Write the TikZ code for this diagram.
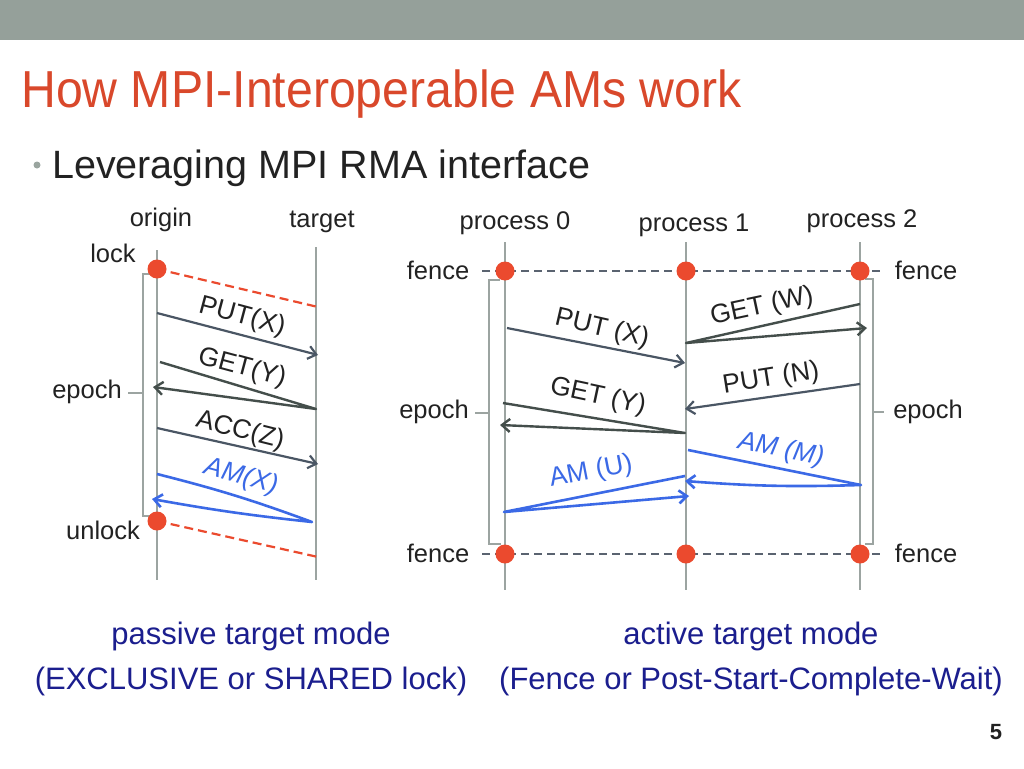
\documentclass[tikz,border=0pt]{standalone}
\usepackage{fontspec}
\setmainfont{Liberation Sans}
\usetikzlibrary{arrows.meta}
\definecolor{bar}{HTML}{95A09A}
\definecolor{titlered}{HTML}{D9482B}
\definecolor{life}{HTML}{9CA4A1}
\definecolor{arrowc}{HTML}{4A5664}
\definecolor{getc}{HTML}{444E4B}
\definecolor{amblue}{HTML}{3B69E6}
\definecolor{dotred}{HTML}{EB4A2E}
\definecolor{fencec}{HTML}{5A6370}
\definecolor{capblue}{HTML}{1B1E8E}
\definecolor{txt}{HTML}{222222}
\definecolor{bulletc}{HTML}{9AA59F}
\tikzset{
  lifeline/.style={draw=life, line width=2.6pt},
  brk/.style={draw=life, line width=2pt},
  tip/.style={-{Straight Barb[length=8pt,width=13pt]}},
  msgput/.style={draw=arrowc, line width=2.2pt, tip},
  msgget/.style={draw=getc, line width=2.4pt, line join=round, tip},
  msgam/.style={draw=amblue, line width=2.6pt, line join=round, tip},
  lockline/.style={draw=dotred, line width=2.2pt, dash pattern=on 9pt off 5pt},
  fenceline/.style={draw=fencec, line width=2.2pt, dash pattern=on 8pt off 5pt},
  dot/.style={circle, fill=dotred, minimum size=19pt, inner sep=0pt},
  lbl/.style={font=\fontsize{25.5}{29}\selectfont, text=txt, inner sep=0pt},
  msglbl/.style={font=\fontsize{26.5}{30}\selectfont, text=txt, inner sep=0pt},
  amlbl/.style={msglbl, text=amblue},
  captxt/.style={font=\fontsize{31}{34}\selectfont, text=capblue, inner sep=0pt},
}
\begin{document}
\begin{tikzpicture}[x=1pt,y=-1pt]
\useasboundingbox (0,0) rectangle (1024,768);
\fill[white] (0,0) rectangle (1024,768);
\fill[bar] (0,0) rectangle (1024,40);

% title and bullet
\node[anchor=base west, inner sep=0pt, text=titlered, font=\fontsize{48.2}{52}\selectfont] (title) at (21,107) {\scalebox{1}[1.08]{How MPI-Interoperable AMs work}};
\fill[bulletc] (37,165) circle (3.5);
\node[anchor=base west, inner sep=0pt, text=txt, font=\fontsize{39.5}{44}\selectfont] (bullet) at (52,178) {Leveraging MPI RMA interface};

% ---------- left diagram ----------
\coordinate (oTop) at (157,250); \coordinate (oBot) at (157,580);
\coordinate (tTop) at (316,247); \coordinate (tBot) at (316,580);
\draw[lifeline] (oTop) -- (oBot);
\draw[lifeline] (tTop) -- (tBot);
\draw[brk] (151,274) -- (143,274) -- (143,516) -- (151,516);
\draw[brk] (143,393) -- (128,393);

\coordinate (lockE) at (318,307);
\coordinate (unlockE) at (318,557);
\draw[lockline] (157,269) -- (lockE);
\draw[lockline] (157,521) -- (unlockE);

\coordinate (p1s) at (157,313); \coordinate (p1e) at (318,355);
\draw[msgput] (p1s) -- (p1e);
\coordinate (g1s) at (160,362); \coordinate (g1t) at (316,409); \coordinate (g1e) at (153,387);
\draw[msgget] (g1s) -- (g1t) -- (g1e);
\coordinate (a1s) at (157,428); \coordinate (a1e) at (318,464);
\draw[msgput] (a1s) -- (a1e);
\coordinate (m1s) at (157,474); \coordinate (m1t) at (312,522); \coordinate (m1e) at (152,499);
\draw[msgam] (m1s) to[bend left=3] (m1t) to[bend left=2] (m1e);

\node[dot] (lock) at (157,269) {};
\node[dot] (unlock) at (157,521) {};

\node[lbl] (origin) at (161,220) {origin};
\node[lbl] (target) at (322,222) {target};
\node[lbl] (locklbl) at (113,253) {lock};
\node[lbl] (unlocklbl) at (103,530) {unlock};
\node[lbl] (epochL) at (87,392) {epoch};
\node[msglbl, rotate=-15] (putx) at (242,317) {PUT(X)};
\node[msglbl, rotate=-15] (gety) at (242,368) {GET(Y)};
\node[msglbl, rotate=-14] (accz) at (240,431) {ACC(Z)};
\node[amlbl, rotate=-15] (amx) at (241,477) {\itshape AM(X)};

% ---------- right diagram ----------
\coordinate (q0Top) at (505,242); \coordinate (q0Bot) at (505,590);
\coordinate (q1Top) at (686,242); \coordinate (q1Bot) at (686,590);
\coordinate (q2Top) at (860,242); \coordinate (q2Bot) at (860,590);
\draw[lifeline] (q0Top) -- (q0Bot);
\draw[lifeline] (q1Top) -- (q1Bot);
\draw[lifeline] (q2Top) -- (q2Bot);
\draw[brk] (500,280) -- (489,280) -- (489,544) -- (501,544);
\draw[brk] (489,413) -- (475,413);
\draw[brk] (865,279) -- (873,279) -- (873,544) -- (865,544);
\draw[brk] (873,412) -- (884,412);

\coordinate (ftL) at (482,271); \coordinate (ftR) at (883,271);
\coordinate (fbL) at (482,554); \coordinate (fbR) at (883,554);
\draw[fenceline] (ftL) -- (ftR);
\draw[fenceline] (fbL) -- (fbR);

\coordinate (p2s) at (507,328); \coordinate (p2e) at (685,363);
\draw[msgput] (p2s) -- (p2e);
\coordinate (g2s) at (503,403); \coordinate (g2t) at (685,433); \coordinate (g2e) at (500,425);
\draw[msgget] (g2s) -- (g2t) -- (g2e);
\coordinate (u2s) at (685,476); \coordinate (u2t) at (504,512); \coordinate (u2e) at (689,496);
\draw[msgam] (u2s) -- (u2t) -- (u2e);
\coordinate (w2s) at (860,304); \coordinate (w2t) at (686,343); \coordinate (w2e) at (867,328);
\draw[msgget] (w2s) -- (w2t) -- (w2e);
\coordinate (n2s) at (860,384); \coordinate (n2e) at (685,409);
\draw[msgput] (n2s) -- (n2e);
\coordinate (mm2s) at (688,450); \coordinate (mm2t) at (861,485); \coordinate (mm2e) at (685,481);
\draw[msgam] (mm2s) -- (mm2t) to[bend left=3] (mm2e);

\node[dot] (f0t) at (505,271) {};
\node[dot] (f1t) at (686,271) {};
\node[dot] (f2t) at (860,271) {};
\node[dot] (f0b) at (505,554) {};
\node[dot] (f1b) at (686,554) {};
\node[dot] (f2b) at (860,554) {};

\node[lbl] (proc0) at (515,223) {process 0};
\node[lbl] (proc1) at (694,225) {process 1};
\node[lbl] (proc2) at (862,221) {process 2};
\node[lbl] (fenceTL) at (438,270) {fence};
\node[lbl] (fenceTR) at (926,270) {fence};
\node[lbl] (fenceBL) at (438,553) {fence};
\node[lbl] (fenceBR) at (926,553) {fence};
\node[lbl] (epochRL) at (434,412) {epoch};
\node[lbl] (epochRR) at (928,412) {epoch};
\node[msglbl, rotate=-13] (putx2) at (602,329) {PUT (X)};
\node[msglbl, rotate=-12] (gety2) at (598,397) {GET (Y)};
\node[amlbl, rotate=11] (amu) at (591,472) {AM (U)};
\node[msglbl, rotate=12] (getw) at (762,307) {GET (W)};
\node[msglbl, rotate=9] (putn) at (771,379) {PUT (N)};
\node[amlbl, rotate=-11] (amm) at (781,450) {\itshape AM (M)};

% captions
\node[captxt] (cap1) at (251,636) {passive target mode};
\node[captxt] (cap2) at (251,681) {(EXCLUSIVE or SHARED lock)};
\node[captxt] (cap3) at (751,636) {active target mode};
\node[captxt] (cap4) at (751,681) {(Fence or Post-Start-Complete-Wait)};
\node[inner sep=0pt, text=txt, font=\fontsize{22}{26}\selectfont\bfseries] (pnum) at (996,732) {5};
\end{tikzpicture}
\end{document}
